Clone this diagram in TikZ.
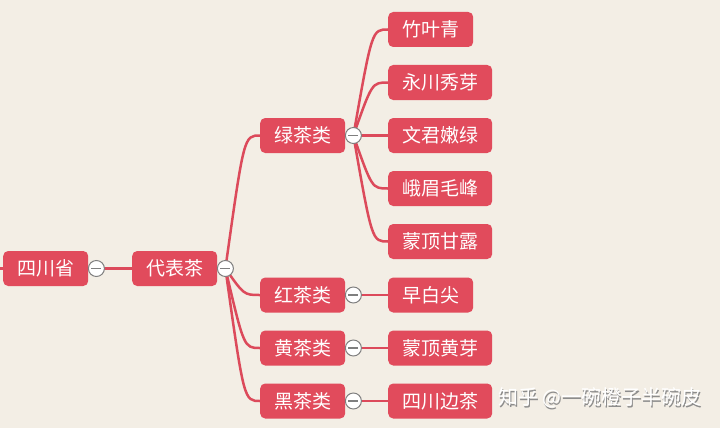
\documentclass[tikz,border=0pt]{standalone}
\usepackage{fontspec}
\newfontfamily\cjk{Noto Sans CJK SC}
\usetikzlibrary{calc,backgrounds}
\definecolor{bg}{HTML}{F3EEE5}
\definecolor{nodered}{HTML}{E14B5C}
\definecolor{linered}{HTML}{DC4A5B}
\definecolor{foldgray}{HTML}{7F7F7F}
\begin{document}
\begin{tikzpicture}[x=1pt,y=-1pt,
  topic/.style={rectangle, rounded corners=5pt, fill=nodered, text=white,
    font=\cjk\fontsize{19}{19}\selectfont, minimum height=35pt,
    inner xsep=14pt, inner ysep=0pt, anchor=west},
  fold/.style={circle, draw=foldgray, fill=white, line width=1pt,
    minimum size=16pt, inner sep=0pt,
    path picture={\draw[foldgray, line width=1.4pt]
      ([xshift=-5pt]path picture bounding box.center) --
      ([xshift=5pt]path picture bounding box.center);}},
  link/.style={linered, line width=2.5pt},
  wmark/.style={anchor=west, font=\cjk\fontsize{20}{20}\selectfont}]
\useasboundingbox (0,0) rectangle (720,428);
% nodes
\node[topic] (sc) at (3,268.5) {四川省};
\node[topic] (dbc) at (132,268.5) {代表茶};
\node[topic] (lc) at (260,135.5) {绿茶类};
\node[topic] (hc) at (260,295) {红茶类};
\node[topic] (huc) at (260,348) {黄茶类};
\node[topic] (hec) at (260,401) {黑茶类};
\node[topic] (zyq) at (388,29.5) {竹叶青};
\node[topic] (ycxy) at (388,82.5) {永川秀芽};
\node[topic] (wjnl) at (388,135.5) {文君嫩绿};
\node[topic] (emmf) at (388,188.5) {峨眉毛峰};
\node[topic] (mdgl) at (388,241.5) {蒙顶甘露};
\node[topic] (zbj) at (388,295) {早白尖};
\node[topic] (mdhy) at (388,348) {蒙顶黄芽};
\node[topic] (scbc) at (388,401) {四川边茶};
% fold buttons
\node[fold] (f0) at ([xshift=8pt]sc.east) {};
\node[fold] (f1) at ([xshift=8pt]dbc.east) {};
\node[fold] (f2) at ([xshift=8pt]lc.east) {};
\node[fold] (f3) at ([xshift=8pt]hc.east) {};
\node[fold] (f4) at ([xshift=8pt]huc.east) {};
\node[fold] (f5) at ([xshift=8pt]hec.east) {};
\coordinate (stub) at (0,268.5);
% watermark
\node[wmark, text=black!45] (wms) at (496,399.5) {知乎 @一碗橙子半碗皮};
\node[wmark, text=white] (wm) at (495,398) {知乎 @一碗橙子半碗皮};
\begin{pgfonlayer}{background}
\fill[bg] (0,0) rectangle (720,428);
\draw[link] (stub) -- (sc.west);
\draw[link] (f0.center) -- (dbc.west);
\foreach \c in {lc,hc,huc,hec}
  \draw[link] (f1.center) .. controls ($(\c.west)+(-16,0)$) .. (\c.west);
\foreach \c in {zyq,ycxy,wjnl,emmf,mdgl}
  \draw[link] (f2.center) .. controls ($(\c.west)+(-16,0)$) .. (\c.west);
\draw[link] (f3.center) -- (zbj.west);
\draw[link] (f4.center) -- (mdhy.west);
\draw[link] (f5.center) -- (scbc.west);
\end{pgfonlayer}
\end{tikzpicture}
\end{document}
